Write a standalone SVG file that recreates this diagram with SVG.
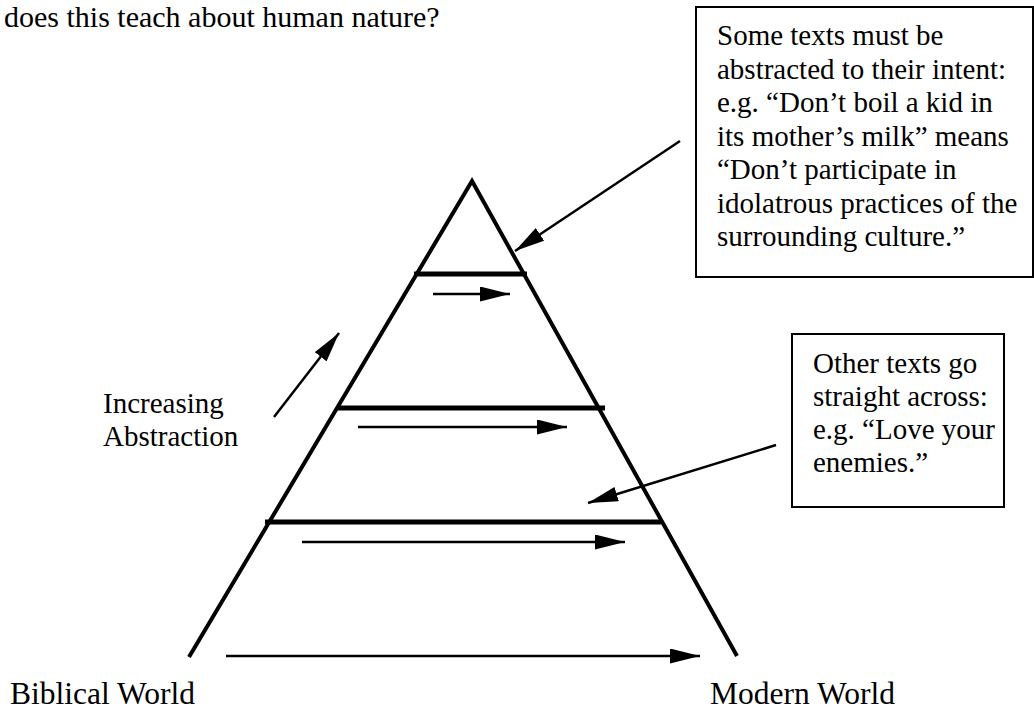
<svg xmlns="http://www.w3.org/2000/svg" width="1034" height="711" viewBox="0 0 1034 711" font-family="'Liberation Serif', 'DejaVu Serif', serif">
<style>
text{font-family:'Liberation Serif','DejaVu Serif',serif;fill:#000}
.t30{font-size:30px}
.t31{font-size:31.5px}
.t29{font-size:29px}
.side{fill:none;stroke:#000;stroke-width:4;stroke-linejoin:miter}
.bar{stroke:#000;stroke-width:5}
.arr{stroke:#000;stroke-width:2.5;fill:none}
.box{fill:#fff;stroke:#000;stroke-width:2}
</style>
<defs>
<marker id="ah" viewBox="0 0 12 6" refX="12" refY="3" markerWidth="12" markerHeight="6" markerUnits="strokeWidth" orient="auto">
<path d="M0,0 L12,3 L0,6 Z" fill="#000"/>
</marker>
</defs>
<rect width="1034" height="711" fill="#fff"/>
<text class="t30" x="4" y="27">does this teach about human nature?</text>

<g id="pyramid">
<polyline class="side" points="189,657 472,181 737,656"/>
<line class="bar" x1="414" y1="274" x2="527" y2="274"/>
<line class="bar" x1="337" y1="408" x2="605" y2="408"/>
<line class="bar" x1="265" y1="522" x2="663" y2="522"/>
</g>

<g id="box-abstracted">
<rect class="box" x="696" y="7" width="337" height="270"/>
<text class="t29" x="717" y="45">Some texts must be</text>
<text class="t29" x="717" y="78.5">abstracted to their intent:</text>
<text class="t29" x="717" y="112">e.g. “Don’t boil a kid in</text>
<text class="t29" x="717" y="145.5">its mother’s milk” means</text>
<text class="t29" x="717" y="179">“Don’t participate in</text>
<text class="t29" x="717" y="212.5">idolatrous practices of the</text>
<text class="t29" x="717" y="246">surrounding culture.”</text>
</g>

<g id="box-straight">
<rect class="box" x="792" y="334" width="212" height="173"/>
<text class="t29" x="813" y="373">Other texts go</text>
<text class="t29" x="813" y="406">straight across:</text>
<text class="t29" x="813" y="439">e.g. “Love your</text>
<text class="t29" x="813" y="472">enemies.”</text>
</g>

<g id="label-abstraction">
<text class="t29" x="103" y="413">Increasing</text>
<text class="t29" x="103" y="446">Abstraction</text>
</g>

<g id="label-biblical">
<text class="t31" x="10" y="704">Biblical World</text>
</g>
<g id="label-modern">
<text class="t31" x="710" y="704">Modern World</text>
</g>

<g id="connectors">
<line class="arr" x1="433" y1="294" x2="510" y2="294" marker-end="url(#ah)"/>
<line class="arr" x1="358" y1="427" x2="567" y2="427" marker-end="url(#ah)"/>
<line class="arr" x1="302" y1="542" x2="625" y2="542" marker-end="url(#ah)"/>
<line class="arr" x1="226" y1="656" x2="700" y2="656" marker-end="url(#ah)"/>
<line class="arr" x1="274" y1="417" x2="339" y2="333" marker-end="url(#ah)"/>
<line class="arr" x1="680" y1="141" x2="515" y2="251" marker-end="url(#ah)"/>
<line class="arr" x1="776" y1="445" x2="588" y2="503" marker-end="url(#ah)"/>
</g>
</svg>
